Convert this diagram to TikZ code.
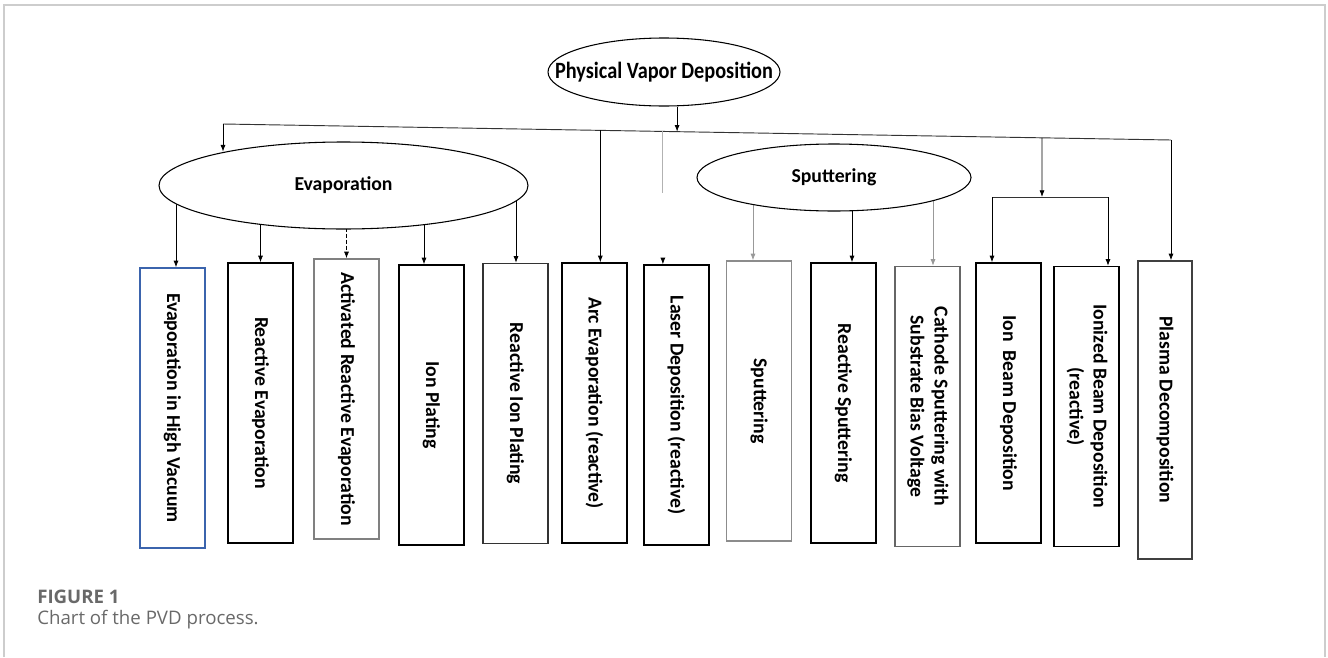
\documentclass[tikz,border=0pt]{standalone}
\usepackage{fontspec}
\setmainfont{Carlito}
\newfontfamily\capfont{Open Sans}
\usetikzlibrary{shapes.geometric,arrows.meta,calc,backgrounds}
\definecolor{boxblue}{RGB}{59,100,173}
\definecolor{framegray}{RGB}{205,205,205}
\definecolor{capgray}{RGB}{105,105,105}
\newcommand{\turntext}[1]{\rotatebox{-90}{#1}}

\begin{document}
\begin{tikzpicture}[x=0.75pt,y=-0.75pt,
  every node/.style={font=\fontsize{14.8}{18}\selectfont\bfseries},
  oval/.style={ellipse,draw,fill=white,line width=0.8pt,inner sep=0pt},
  leaf/.style={rectangle,draw,line width=1.1pt,inner sep=0pt,minimum width=48.75pt,minimum height=210pt},
  arr/.style={-{Latex[length=5pt,width=3.8pt]},line width=0.6pt},
  dasharr/.style={arr,dash pattern=on 3pt off 1.5pt},
  faint/.style={line width=0.6pt,draw=black!30},
  faintarr/.style={arr,draw=black!40},
  trunk/.style={line width=0.7pt,draw=black!80}]
  \useasboundingbox (0,0) rectangle (1328,657);
  \draw[framegray,line width=1.5pt] (4,657) -- (4,5) -- (1325,5) -- (1325,657);

  \node[oval,minimum width=174pt,minimum height=51pt] (pvd) at (664,72)
    {\makebox[0pt]{\fontsize{17.5}{20}\selectfont\scalebox{0.87}[1]{Physical Vapor Deposition}}};
  \node[oval,minimum width=276.75pt,minimum height=65.25pt] (evap) at (343.5,185.5) {Evaporation};
  \node[oval,minimum width=205.5pt,minimum height=50.25pt] (sput) at (834,177.5) {Sputtering};

  \node[leaf,draw=boxblue] (b1) at (172.5,408) {\turntext{Evaporation in High Vacuum}};
  \node[leaf] (b2) at (260.5,403) {\turntext{Reactive Evaporation}};
  \node[leaf,draw=black!50] (b3) at (346.5,399) {\turntext{Activated Reactive Evaporation}};
  \node[leaf] (b4) at (431.5,405) {\turntext{Ion Plating}};
  \node[leaf,draw=black!80] (b5) at (515.5,403.5) {\turntext{Reactive Ion Plating}};
  \node[leaf] (b6) at (594.5,403) {\turntext{Arc Evaporation (reactive)}};
  \node[leaf] (b7) at (676.5,405) {\turntext{Laser Deposition (reactive)}};
  \node[leaf,draw=black!45] (b8) at (759,401) {\turntext{Sputtering}};
  \node[leaf] (b9) at (843.5,403) {\turntext{Reactive Sputtering}};
  \node[leaf,draw=black!60] (b10) at (927.5,406.5)
    {\turntext{\begin{tabular}{@{}c@{}}Cathode Sputtering with\\Substrate Bias Voltage\end{tabular}}};
  \node[leaf] (b11) at (1008.5,403) {\turntext{Ion\ \ Beam Deposition}};
  \node[leaf] (b12) at (1086.5,406.5)
    {\turntext{\begin{tabular}{@{}c@{}}Ionized Beam Deposition\\(reactive)\end{tabular}}};
  \node[leaf,draw=black!75,minimum width=40.5pt,minimum height=223.5pt] (b13) at (1165,410)
    {\turntext{Plasma Decomposition}};

  \coordinate (tl) at (223,124);
  \coordinate (tr) at (1171,140);
  \coordinate (jpvd) at ($(tl)!0.479!(tr)$);
  \coordinate (jarc) at ($(tl)!0.398!(tr)$);
  \coordinate (jlas) at ($(tl)!0.464!(tr)$);
  \coordinate (jion) at ($(tl)!0.864!(tr)$);
  \coordinate (lasend) at ($(jlas)+(0,62)$);
  \coordinate (fork) at (1042,197);
  \coordinate (fl) at (992,197);
  \coordinate (fr) at (1108,197);

  \begin{scope}[on background layer]
    \draw[trunk] (tl) -- (tr);
    \draw[arr] (pvd.south -| jpvd) -- (jpvd);
    \draw[arr] (tl) -- (tl |- evap.164);
    \foreach \b/\dx/\st in {b1/3.5/arr,b2/0/arr,b3/0/dasharr,b4/-7.5/arr,b5/0.5/arr}{
      \coordinate (t-\b) at ($(\b.north)+(\dx,0)$);
      \draw[\st] (t-\b |- evap.center) -- (t-\b);
    }
    \foreach \b/\dx/\st in {b8/-6/faintarr,b9/8.5/arr,b10/5.5/faintarr}{
      \coordinate (t-\b) at ($(\b.north)+(\dx,0)$);
      \draw[\st] (t-\b |- sput.center) -- (t-\b);
    }
    \draw[arr] (jarc) -- (jarc |- b6.north);
    \draw[faint] (jlas) -- (lasend);
    \draw[arr] (jlas |- b7.north) ++(0,-6) -- (jlas |- b7.north);
    \draw[arr] (jion) -- (fork);
    \draw[trunk] (fl) -- (fr);
    \draw[arr] (fl) -- (fl |- b11.north);
    \draw[arr] (fr) -- (fr |- b12.north);
    \draw[arr] (tr) -- (tr |- b13.north);
  \end{scope}

  \node[anchor=base west,inner sep=0pt,text=capgray,font=\capfont\bfseries\fontsize{14}{17}\selectfont] (fig) at (37,603) {FIGURE 1};
  \node[anchor=base west,inner sep=0pt,text=capgray,font=\capfont\fontsize{14}{17}\selectfont] (cap) at (37,624) {Chart of the PVD process.};
\end{tikzpicture}
\end{document}
